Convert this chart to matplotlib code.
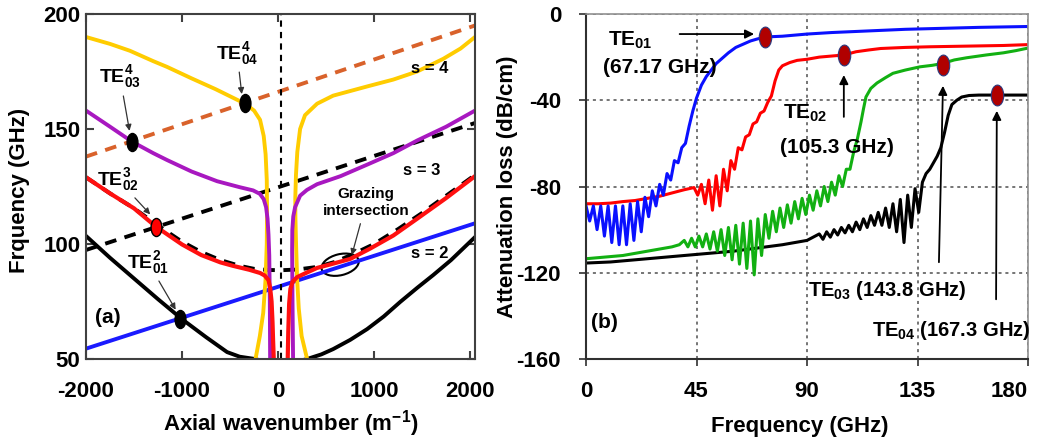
import matplotlib
matplotlib.use("Agg")
import matplotlib.pyplot as plt
from matplotlib.path import Path
from matplotlib.transforms import Affine2D, ScaledTranslation
from matplotlib.patches import Ellipse

plt.rcParams['font.family'] = ['Liberation Sans', 'DejaVu Sans']
plt.rcParams['font.weight'] = 'bold'
plt.rcParams['mathtext.fontset'] = 'custom'
plt.rcParams['mathtext.rm'] = 'Liberation Sans:bold'
plt.rcParams['mathtext.it'] = 'Liberation Sans:bold'
plt.rcParams['mathtext.bf'] = 'Liberation Sans:bold'
plt.rcParams['axes.unicode_minus'] = False

# ---- (a) dispersion diagram ----
blue_k = [-2000, 2050]
blue_f = [54.5, 109]
orange_k = [-2000, 2050]
orange_f = [138, 195]
s3_k = [-2000, 2050]
s3_f = [97.4, 152.6]

black_k = [-2000, -1750, -1500, -1250, -1000, -750, -531, -400, -240, 30, 302, 450, 573, 750, 927,
           1100, 1271, 1450, 1615, 1800, 2050]
black_f = [103.5, 94, 85, 76, 67.3, 59.5, 53, 51, 50, 47, 50, 52, 54.3, 58.3, 63,
           68.5, 74.8, 81, 86.5, 93, 103]

hyp_k = [-2000, -1750, -1500, -1250, -1000, -800, -600, -400, -250, -100, 30, 200, 400, 600, 800,
         1000, 1250, 1500, 1750, 2050]
hyp_f = [129, 122, 115.5, 108, 101, 96.5, 93, 90.5, 89.2, 88.7, 88.6, 88.9, 90, 92.3, 96,
         100, 106.5, 113.5, 121, 130]

red_l_k = [-2000, -1750, -1500, -1270, -1000, -800, -600, -469, -300, -188, -140, -100, -83, -68, -58, -52, -45]
red_l_f = [129, 122, 115.5, 107.5, 99.8, 95.2, 92, 90.5, 88.8, 87.4, 86.3, 84.3, 81, 75, 66, 58, 50]
red_r_k = [100, 106, 115, 128, 150, 198, 300, 406, 550, 750, 958, 1200, 1448, 1750, 2050]
red_r_f = [50, 62, 74, 80.5, 83.5, 85.6, 87.6, 89.6, 91.2, 93.5, 98, 103.7, 111, 120, 129.5]

pur_l_k = [-2000, -1750, -1521, -1300, -1156, -900, -635, -400, -260, -190, -150, -125, -110, -100, -92, -86, -83]
pur_l_f = [158, 151, 144.5, 139.5, 136.5, 131.5, 127.3, 124.7, 123.3, 121.8, 119.5, 116, 111, 104, 95, 75, 50]
pur_r_k = [156, 150, 146, 148, 158, 177, 229, 300, 406, 650, 927, 1200, 1448, 1750, 2050]
pur_r_f = [50, 75, 97, 106, 112, 116, 121, 123.5, 126, 129.5, 134.5, 139.5, 145, 151, 158]

yel_l_k = [-2000, -1750, -1542, -1300, -1156, -900, -650, -344, -250, -188, -150, -130, -118, -115,
           -118, -130, -155, -190, -235]
yel_l_f = [190, 187, 184, 179.5, 177, 172, 167.3, 161, 158, 154, 147, 139, 128, 115,
           100, 85, 70, 60, 50]
yel_r_k = [302, 245, 215, 198, 187, 180, 179, 186, 200, 229, 280, 406, 573, 750, 927,
           1200, 1448, 1719, 1900, 2050]
yel_r_f = [50, 60, 72, 85, 100, 112, 120, 130, 140, 150, 156, 161, 164.5, 166.5, 168.5,
           171.5, 175, 180.5, 185, 190]

pts_k = [-1521, -344, -1270, -1020]
pts_f = [144.5, 161.2, 107.4, 67.5]
pts_fc = ['k', 'k', 'r', 'k']

# ---- (b) attenuation loss ----
te01_f = [0, 1.5, 3, 4.5, 6, 7.5, 9, 10.5, 12, 13.5, 15, 16.5, 18, 19.5, 21, 22.5, 24, 25.5, 27, 28.5,
          30, 31.5, 33, 34.5, 36, 37.5, 39, 40.5, 42, 43.5, 45, 47, 49, 51, 53, 55, 58, 61, 64, 67,
          70, 73, 76, 80, 85, 90, 100, 110, 120, 130, 140, 150, 160, 170, 180]
te01_db = [-89, -96, -89, -100, -89, -103, -89, -106, -89, -107, -89, -107, -88, -105, -87, -101, -85, -94,
           -82, -89, -79, -84, -74, -77, -68, -69, -62, -60, -52, -45, -39, -33, -29, -26, -23, -21,
           -18, -15.5, -14, -12.5, -11.5, -10.8, -10.5, -10.3, -9.8, -9.3, -8.6, -8.1, -7.6, -7.1,
           -6.8, -6.5, -6.2, -6, -5.8]

te02_f = [0, 5, 10, 15, 20, 25, 30, 35, 40, 44, 45.5, 47, 48.5, 50, 51.5, 53, 54.5, 56, 57.5, 59,
          60.5, 62, 63.5, 65, 66.5, 68, 69.5, 71, 72.5, 74, 75.5, 77, 78.5, 80, 83, 86, 90, 95, 100,
          105, 110, 115, 120, 130, 140, 150, 160, 170, 180]
te02_db = [-88, -88, -87.7, -87, -86.5, -85.5, -84.5, -83, -81.5, -80.5, -84, -79, -88, -77, -91, -75,
           -89, -72, -82, -68, -72, -62, -63, -57, -56, -51, -50, -46, -45, -41, -38, -31, -26, -24,
           -22.5, -21.5, -21, -20, -19.5, -19, -17.5, -16.7, -16, -15.5, -15.2, -15, -14.8, -14.6, -14.2]

te03_f = [0, 5, 10, 15, 20, 25, 30, 35, 38, 40, 41.5, 43, 44.5, 46, 47.5, 49, 50.5, 52, 53.5, 55,
          56.5, 58, 59.5, 61, 62.5, 64, 65.5, 67, 68.5, 70, 71.5, 73, 74.5, 76, 77.5, 79, 80.5, 82,
          83.5, 85, 86.5, 88, 89.5, 91, 92.5, 94, 95.5, 97, 98.5, 100, 101.5, 103, 104.5, 106, 107.5,
          109, 110.5, 112, 113, 114, 116, 118.5, 122, 125, 130, 136, 141, 145, 150, 155, 163, 170, 175, 180]
te03_db = [-113.5, -113, -112.5, -112, -111, -110, -109, -108, -107, -105, -108, -104, -108, -103, -108,
           -102, -109, -101, -110, -100, -112, -99, -114, -98, -116, -97, -118, -96, -121, -95, -112,
           -93, -104, -91.5, -101, -90, -99, -88.5, -97, -87, -95, -85.5, -93, -84, -91, -82, -89,
           -80, -87, -78, -84, -75, -80, -72, -72, -64, -58, -50, -44, -38.5, -34.5, -32, -29.5,
           -27.5, -26, -24.5, -23.8, -23, -21.3, -20.3, -19, -18, -17, -15.8]

te04_f = [0, 10, 20, 30, 40, 50, 60, 70, 80, 90, 95, 96.5, 98, 99.5, 101, 102.5, 104, 105.5, 107, 108.5,
          110, 111.5, 113, 114.5, 116, 117.5, 119, 120.5, 122, 123.5, 125, 126.5, 128, 129.5, 131, 132.5,
          134, 135.5, 137, 138.5, 140, 141.5, 143, 144.5, 146, 147.5, 149, 151, 153, 156, 160, 165, 170, 175, 180]
te04_db = [-115.5, -115, -114, -113, -112, -111, -110, -108.5, -107, -105, -102, -104.5, -101, -103.5,
           -100, -102.5, -99, -101.5, -98, -101, -96.5, -100, -95, -99, -93.5, -98, -92, -98, -90, -99,
           -88, -101, -86, -106, -84, -99, -81, -92, -78, -74, -72, -69, -66, -62, -55, -47, -42,
           -40, -38.5, -37.8, -37.6, -37.6, -37.6, -37.6, -37.6]

mark_f = [72.9, 105, 145.4, 167.3]
mark_db = [-10.7, -19, -23.6, -37.6]

ell = Path.unit_circle().transformed(Affine2D().scale(0.6, 1.0))

fig = plt.figure(figsize=(10.41, 4.44), dpi=100)
ax1 = fig.add_axes([86/1041, 1 - 359/444, 389/1041, 345/444])
ax2 = fig.add_axes([586/1041, 1 - 359/444, 442/1041, 345/444])

# ---------- panel (a) ----------
ax1.plot(blue_k, blue_f, color='#1a1aff', lw=2.8)
ax1.plot(orange_k, orange_f, color='#d9622b', lw=2.8, dashes=(3, 2.2))
ax1.plot(s3_k, s3_f, color='k', lw=2.8, dashes=(3, 2.2))
ax1.plot(hyp_k, hyp_f, color='k', lw=2.8, dashes=(3, 2.2))
ax1.plot(black_k, black_f, color='k', lw=2.8)
ax1.plot(yel_l_k, yel_l_f, color='#ffcc00', lw=2.8)
ax1.plot(yel_r_k, yel_r_f, color='#ffcc00', lw=2.8)
ax1.plot(pur_l_k, pur_l_f, color='#a818c0', lw=2.8)
ax1.plot(pur_r_k, pur_r_f, color='#a818c0', lw=2.8)
ax1.plot(red_l_k, red_l_f, color='#ff1010', lw=3)
ax1.plot(red_r_k, red_r_f, color='#ff1010', lw=3)
ax1.axvline(30, color='k', lw=1.5, dashes=(3, 2.5))
for k, f, c in zip(pts_k, pts_f, pts_fc):
    ax1.plot(k, f, marker=ell, ms=13, mfc=c, mec='k', mew=1, ls='none')

# tilted ellipse around the grazing point, sized in inches
graze = Ellipse((0, 0), 0.38, 0.21, angle=14, fill=False, ec='k', lw=1.5,
                transform=fig.dpi_scale_trans + ScaledTranslation(646, 91, ax1.transData))
ax1.add_patch(graze)

arr = dict(arrowstyle='-|>', color='#333333', lw=0.9, mutation_scale=9)
ax1.annotate(r'TE$^{4}_{03}$', xy=(-1542, 148), xytext=(-1646, 172.6), fontsize=14,
             ha='center', va='center', arrowprops=arr)
ax1.annotate(r'TE$^{4}_{04}$', xy=(-375, 164), xytext=(-427, 183), fontsize=14,
             ha='center', va='center', arrowprops=arr)
ax1.annotate(r'TE$^{3}_{02}$', xy=(-1312, 112), xytext=(-1667, 128), fontsize=14,
             ha='center', va='center', arrowprops=arr)
ax1.annotate(r'TE$^{2}_{01}$', xy=(-1052, 70.4), xytext=(-1354, 92), fontsize=14,
             ha='center', va='center', arrowprops=arr)
ax1.annotate('Grazing\nintersection', xy=(760, 94), xytext=(917, 118), fontsize=11,
             ha='center', va='center', linespacing=1.3, arrowprops=arr)
ax1.text(1583, 176.5, 's = 4', fontsize=12, ha='center', va='center')
ax1.text(1500, 132, 's = 3', fontsize=12, ha='center', va='center')
ax1.text(1583, 95.7, 's = 2', fontsize=12, ha='center', va='center')
ax1.text(-1771, 68, '(a)', fontsize=15, ha='center', va='center')

ax1.set_xlim(-2000, 2050)
ax1.set_ylim(50, 200)
ax1.set_xticks([-2000, -1000, 0, 1000, 2000])
ax1.set_yticks([50, 100, 150, 200])
ax1.tick_params(direction='in', top=True, right=True, length=6, width=1.5,
                labelsize=16, color='#404040')
ax1.tick_params(axis='x', pad=16)
ax1.tick_params(axis='y', pad=4)
for sp in ax1.spines.values():
    sp.set_color('#404040')
    sp.set_linewidth(1.5)
ax1.text(0.527, -0.188, r'Axial wavenumber (m$^{\mathbf{-1}}$)', transform=ax1.transAxes,
         fontsize=16, ha='center', va='center')
ax1.text(-0.170, 0.49, 'Frquency (GHz)', transform=ax1.transAxes, rotation=90,
         fontsize=16, ha='center', va='center')

# ---------- panel (b) ----------
ax2.grid(True, color='#505050', lw=1.1, dashes=(2, 2.5))
ax2.plot(te04_f, te04_db, color='k', lw=2.2)
ax2.plot(te03_f, te03_db, color='#12b012', lw=2.2)
ax2.plot(te02_f, te02_db, color='#ff0000', lw=2.2)
ax2.plot(te01_f, te01_db, color='#0a10ff', lw=2.2)
ax2.plot(mark_f, mark_db, marker=ell, ms=15, mfc='#b00000', mec='#2a3a80', mew=0.8, ls='none')

harr = dict(arrowstyle='-|>', color='k', lw=1.3, mutation_scale=13)
ax2.annotate('', xy=(69.6, -9.3), xytext=(37, -9.3), arrowprops=harr)
ax2.annotate('', xy=(105, -27), xytext=(105, -49), arrowprops=harr)
ax2.annotate('', xy=(145.4, -32), xytext=(143.7, -116.4), arrowprops=harr)
ax2.annotate('', xy=(167.3, -43.6), xytext=(167, -133.6), arrowprops=harr)
ax2.text(9, -12, r'TE$_{01}$', fontsize=15, ha='left', va='center')
ax2.text(7, -24.6, '(67.17 GHz)', fontsize=15, ha='left', va='center')
ax2.text(80.2, -46, r'TE$_{02}$', fontsize=15, ha='left', va='center')
ax2.text(79, -61.7, '(105.3 GHz)', fontsize=15, ha='left', va='center')
ax2.text(90.4, -128, r'TE$_{03}$ (143.8 GHz)', fontsize=14.5, ha='left', va='center')
ax2.text(116.5, -146.6, r'TE$_{04}$ (167.3 GHz)', fontsize=14.5, ha='left', va='center')
ax2.text(7.7, -143, '(b)', fontsize=15, ha='center', va='center')

ax2.set_xlim(0, 180)
ax2.set_ylim(-160, 0)
ax2.set_xticks([0, 45, 90, 135, 180])
ax2.set_yticks([0, -40, -80, -120, -160])
ax2.tick_params(direction='out', length=5, width=1.2, labelsize=16, color='#303030')
ax2.tick_params(axis='x', pad=11)
ax2.tick_params(axis='y', pad=13)
ax2.get_xticklabels()[-1].set_horizontalalignment('right')
for side in ['left', 'bottom']:
    ax2.spines[side].set_color('#303030')
    ax2.spines[side].set_linewidth(1.5)
for side in ['top', 'right']:
    ax2.spines[side].set_color('#909090')
    ax2.spines[side].set_linewidth(1.2)
ax2.text(0.484, -0.197, 'Frequency (GHz)', transform=ax2.transAxes,
         fontsize=16, ha='center', va='center')
ax2.text(-0.178, 0.5, 'Attenuation loss (dB/cm)', transform=ax2.transAxes, rotation=90,
         fontsize=16, ha='center', va='center')

fig.savefig('out.png', dpi=100)
